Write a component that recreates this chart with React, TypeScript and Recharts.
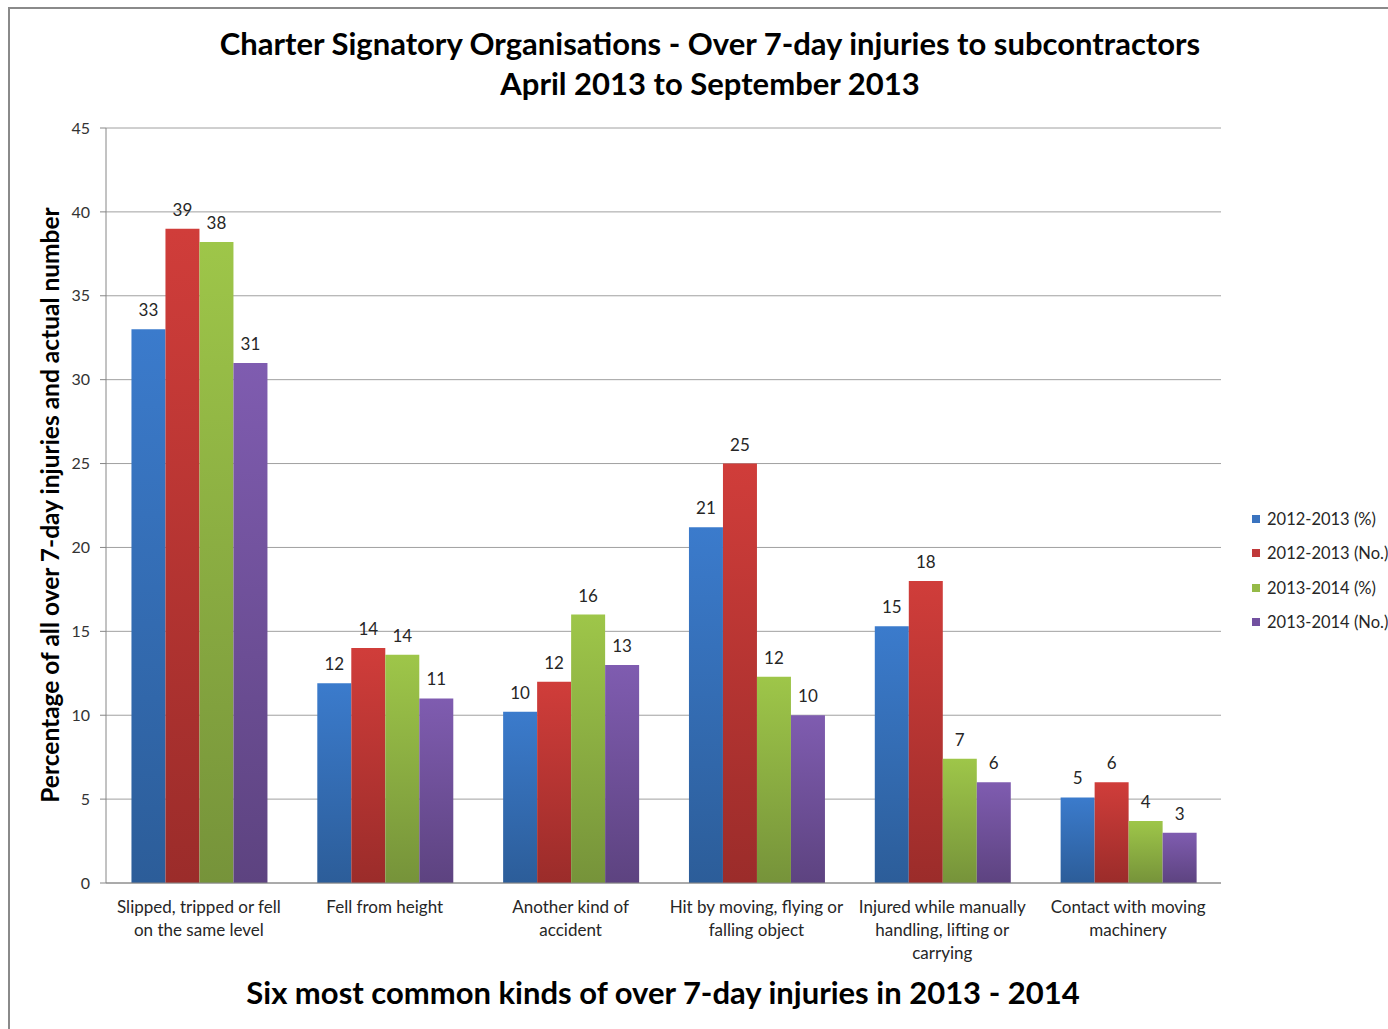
import React from 'react';
import { BarChart, Bar, XAxis, YAxis, CartesianGrid, LabelList } from 'recharts';

const FONT = 'Lato, "Open Sans", sans-serif';

// Six kinds of injury (x axis)
const categories = [
  'Slipped, tripped or fell\non the same level',
  'Fell from height',
  'Another kind of\naccident',
  'Hit by moving, flying or\nfalling object',
  'Injured while manually\nhandling, lifting or\ncarrying',
  'Contact with moving\nmachinery',
];

// Series values
const pct1213 = [33.0, 11.9, 10.2, 21.2, 15.3, 5.1];
const no1213 = [39, 14, 12, 25, 18, 6];
const pct1314 = [38.2, 13.6, 16.0, 12.3, 7.4, 3.7];
const no1314 = [31, 11, 13, 10, 6, 3];

const yTicks = [0, 5, 10, 15, 20, 25, 30, 35, 40, 45];

const seriesNames = ['2012-2013 (%)', '2012-2013 (No.)', '2013-2014 (%)', '2013-2014 (No.)'];
const seriesKeys = ['pct1213', 'no1213', 'pct1314', 'no1314'];
const seriesColors = [
  { top: '#3b7bcc', bottom: '#2c5d99', legend: '#3a73bf' },
  { top: '#d03d3a', bottom: '#9b2c2a', legend: '#c0393a' },
  { top: '#9ec649', bottom: '#76933a', legend: '#95ba47' },
  { top: '#7f5cb0', bottom: '#5d4380', legend: '#7250a0' },
];

const data = categories.map((name, i) => ({
  name,
  pct1213: pct1213[i],
  no1213: no1213[i],
  pct1314: pct1314[i],
  no1314: no1314[i],
}));

const CategoryTick = ({ x, y, payload }: any) => {
  const lines = String(payload.value).split('\n');
  return (
    <text x={x} y={y} textAnchor="middle" fill="#262626" fontSize={17} fontFamily={FONT}>
      {lines.map((line, i) => (
        <tspan key={i} x={x} dy={i === 0 ? 30 : 23}>
          {line}
        </tspan>
      ))}
    </text>
  );
};

export default function App() {
  return (
    <div
      style={{
        position: 'absolute',
        left: 0,
        top: 0,
        width: 1388,
        height: 1029,
        overflow: 'hidden',
        background: '#ffffff',
        fontFamily: FONT,
      }}
    >
      {/* chart frame, only top and left edges visible */}
      <div
        style={{
          position: 'absolute',
          left: 8,
          top: 7,
          width: 1500,
          height: 1200,
          borderTop: '2px solid #8a8a8a',
          borderLeft: '2px solid #8a8a8a',
        }}
      />

      {/* title */}
      <div
        style={{
          position: 'absolute',
          left: 160,
          width: 1100,
          top: 23,
          textAlign: 'center',
          fontWeight: 700,
          fontSize: 31,
          lineHeight: '40px',
          color: '#000',
        }}
      >
        Charter Signatory Organisations - Over 7-day injuries to subcontractors
        <br />
        April 2013 to September 2013
      </div>

      <div style={{ position: 'absolute', left: 0, top: 0 }}>
        <BarChart
          width={1388}
          height={1029}
          data={data}
          margin={{ top: 128, right: 167, bottom: 66, left: 46 }}
          barCategoryGap="13.7%"
          barGap={0}
        >
          <defs>
            {seriesColors.map((c, i) => (
              <linearGradient key={i} id={`grad${i}`} x1="0" y1="0" x2="0" y2="1">
                <stop offset="0%" stopColor={c.top} />
                <stop offset="100%" stopColor={c.bottom} />
              </linearGradient>
            ))}
          </defs>
          <CartesianGrid vertical={false} stroke="#a0a0a0" strokeWidth={1} />
          <XAxis
            dataKey="name"
            height={80}
            interval={0}
            tick={<CategoryTick />}
            tickLine={false}
            tickSize={0}
            tickMargin={0}
            axisLine={{ stroke: '#868686' }}
          />
          <YAxis
            width={60}
            domain={[0, 45]}
            ticks={yTicks}
            interval={0}
            allowDataOverflow
            tickSize={6}
            tickMargin={10}
            tickLine={{ stroke: '#868686' }}
            axisLine={{ stroke: '#868686' }}
            tick={{ fill: '#333333', fontSize: 16, fontFamily: FONT }}
          />
          {seriesKeys.map((key, i) => (
            <Bar key={key} dataKey={key} name={seriesNames[i]} fill={`url(#grad${i})`} isAnimationActive={false}>
              <LabelList
                dataKey={key}
                position="top"
                offset={13}
                formatter={(v: any) => Math.round(Number(v))}
                style={{ fill: '#262626', fontSize: 17, fontFamily: FONT }}
              />
            </Bar>
          ))}
        </BarChart>
      </div>

      {/* y axis title */}
      <div
        style={{
          position: 'absolute',
          left: 50 - 350,
          top: 505 - 16,
          width: 700,
          height: 32,
          lineHeight: '32px',
          textAlign: 'center',
          fontWeight: 700,
          fontSize: 24.5,
          color: '#000',
          transform: 'rotate(-90deg)',
        }}
      >
        Percentage of all over 7-day injuries and actual number
      </div>

      {/* x axis title */}
      <div
        style={{
          position: 'absolute',
          left: 113,
          width: 1100,
          top: 972,
          textAlign: 'center',
          fontWeight: 700,
          fontSize: 31,
          lineHeight: '40px',
          color: '#000',
        }}
      >
        Six most common kinds of over 7-day injuries in 2013 - 2014
      </div>

      {/* legend */}
      {seriesNames.map((name, i) => (
        <div
          key={name}
          style={{
            position: 'absolute',
            left: 1252,
            top: 519 + i * 34.3 - 11,
            height: 22,
            display: 'flex',
            alignItems: 'center',
            whiteSpace: 'nowrap',
            fontSize: 16.5,
            color: '#262626',
          }}
        >
          <span style={{ display: 'inline-block', width: 8, height: 8, background: seriesColors[i].legend, marginRight: 7 }} />
          {name}
        </div>
      ))}
    </div>
  );
}
